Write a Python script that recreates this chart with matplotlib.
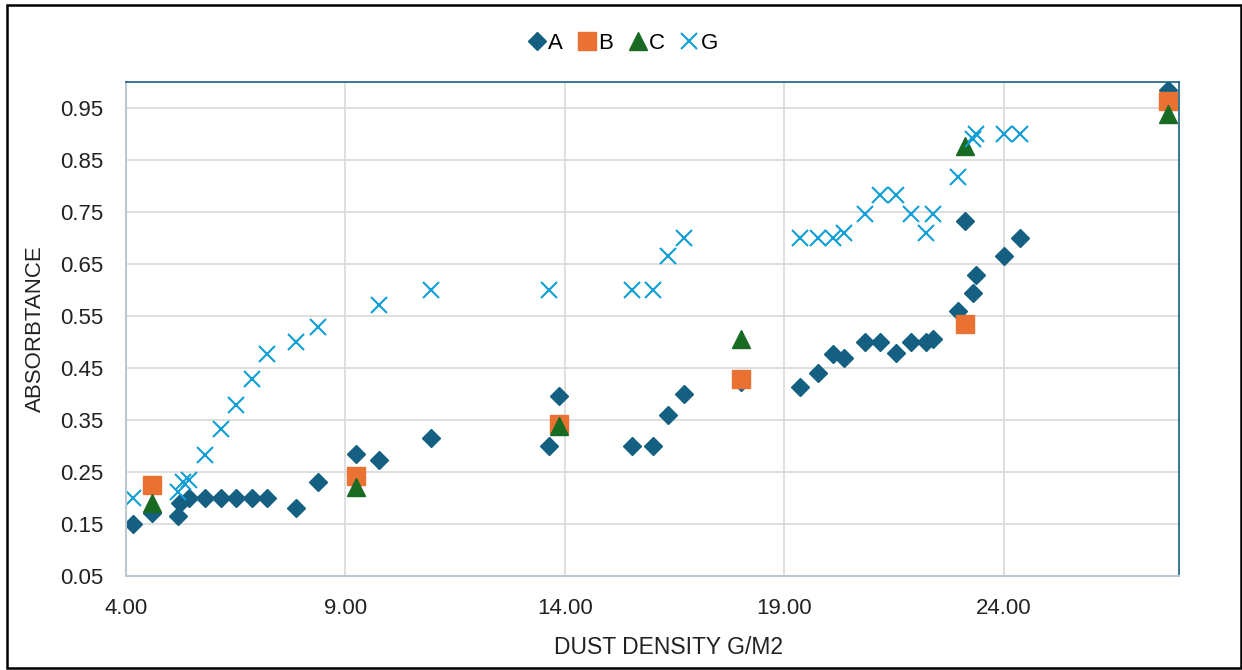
import matplotlib
matplotlib.use("Agg")
import matplotlib.pyplot as plt
from matplotlib.patches import Rectangle

plt.rcParams['font.family'] = ['Liberation Sans', 'DejaVu Sans']

# series A (diamonds)
a_x = [4.17, 4.61, 5.19, 5.24, 5.45, 5.81, 6.17, 6.51, 6.87, 7.23, 7.88, 8.39,
       9.24, 9.76, 10.96, 13.64, 13.86, 15.54, 16.02, 16.36, 16.71, 18.01,
       19.35, 19.77, 20.12, 20.36, 20.83, 21.18, 21.54, 21.88, 22.24, 22.38,
       22.95, 23.12, 23.30, 23.36, 24.01, 24.37, 27.75]
a_y = [0.15, 0.17, 0.165, 0.19, 0.20, 0.20, 0.20, 0.20, 0.20, 0.20, 0.18, 0.23,
       0.285, 0.273, 0.314, 0.30, 0.395, 0.30, 0.30, 0.36, 0.40, 0.422,
       0.412, 0.44, 0.476, 0.469, 0.50, 0.50, 0.478, 0.50, 0.50, 0.506,
       0.559, 0.733, 0.594, 0.629, 0.664, 0.70, 0.985]

# series B (squares)
b_x = [4.61, 9.24, 13.86, 18.01, 23.12, 27.75]
b_y = [0.225, 0.242, 0.341, 0.429, 0.534, 0.963]

# series C (triangles)
c_x = [4.61, 9.24, 13.86, 18.01, 23.12, 27.75]
c_y = [0.19, 0.22, 0.337, 0.505, 0.877, 0.937]

# series G (crosses)
g_x = [4.17, 5.19, 5.31, 5.45, 5.81, 6.17, 6.51, 6.87, 7.23, 7.88, 8.39, 9.76,
       10.96, 13.64, 15.54, 16.02, 16.36, 16.71, 19.35, 19.77, 20.12, 20.36,
       20.83, 21.18, 21.54, 21.88, 22.24, 22.38, 22.95, 23.30, 23.36, 24.01, 24.37]
g_y = [0.20, 0.211, 0.23, 0.235, 0.283, 0.332, 0.379, 0.428, 0.476, 0.50, 0.529, 0.571,
       0.60, 0.60, 0.60, 0.60, 0.664, 0.70, 0.70, 0.70, 0.70, 0.71,
       0.745, 0.782, 0.782, 0.745, 0.71, 0.745, 0.816, 0.89, 0.90, 0.90, 0.90]

x_ticks = [4.0, 9.0, 14.0, 19.0, 24.0]
y_ticks = [0.05, 0.15, 0.25, 0.35, 0.45, 0.55, 0.65, 0.75, 0.85, 0.95]

fig = plt.figure(figsize=(12.42, 6.70), dpi=100)
ax = fig.add_axes([0.1012, 0.1407, 0.8483, 0.7373])

ax.plot(a_x, a_y, 'D', color='#156082', markersize=9.5, linestyle='none', label='A')
ax.plot(b_x, b_y, 's', color='#E97132', markersize=12.5, linestyle='none', label='B')
ax.plot(c_x, c_y, '^', color='#196B24', markersize=12.5, linestyle='none', label='C')
ax.plot(g_x, g_y, 'x', color='#0F9ED5', markersize=12, markeredgewidth=1.5,
        linestyle='none', label='G')

ax.set_xlim(4.0, 28.0)
ax.set_ylim(0.05, 1.0)
ax.set_xticks(x_ticks)
ax.set_xticklabels(['%.2f' % v for v in x_ticks])
ax.set_yticks(y_ticks)
ax.set_yticklabels(['%.2f' % v for v in y_ticks])
ax.tick_params(length=0, labelsize=16, colors='#222222')
ax.tick_params(axis='y', pad=16)
ax.tick_params(axis='x', pad=16)
ax.grid(True, color='#D9D9D9', linewidth=1.2)
ax.set_axisbelow(True)

for s in ['left', 'bottom']:
    ax.spines[s].set_color('#BCC8D0')
    ax.spines[s].set_linewidth(1.5)
for s in ['top', 'right']:
    ax.spines[s].set_color('#156082')
    ax.spines[s].set_linewidth(1.2)

ax.set_xlabel('DUST DENSITY G/M2', fontsize=16.5, color='#222222')
ax.xaxis.set_label_coords(0.515, -0.122)
ax.set_ylabel('ABSORBTANCE', fontsize=16, color='#222222', labelpad=10)

fig.legend(loc='center', bbox_to_anchor=(0.501, 0.935), ncol=4, frameon=False,
           fontsize=16, handletextpad=0.05, columnspacing=0.65, handlelength=0.9)

fig.patches.append(Rectangle((0.0056, 0.003), 0.9935, 0.9895, transform=fig.transFigure,
                             fill=False, edgecolor='black', linewidth=1.8))

fig.savefig('out.png', dpi=100)
